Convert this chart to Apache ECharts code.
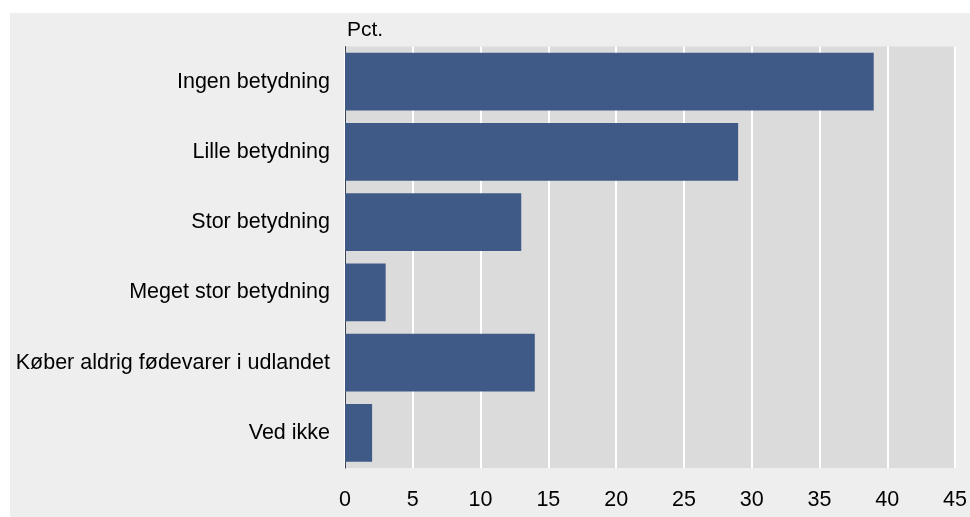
<!DOCTYPE html>
<html>
<head>
<meta charset="utf-8">
<script src="https://cdn.jsdelivr.net/npm/echarts@6/dist/echarts.min.js"></script>
<style>
  html, body { margin: 0; padding: 0; background: #fff; }
  #main { width: 970px; height: 517px; }
</style>
</head>
<body>
<div id="main"></div>
<script>
// kategorier og andele (pct.)
var categories = ['Ingen betydning', 'Lille betydning', 'Stor betydning',
  'Meget stor betydning', 'Køber aldrig fødevarer i udlandet', 'Ved ikke'];
var values = [39, 29, 13, 3, 14, 2];
var xTicks = [0, 5, 10, 15, 20, 25, 30, 35, 40, 45];

var chart = echarts.init(document.getElementById('main'));
var font = 'Liberation Sans, Arial, sans-serif';

var option = {
  backgroundColor: '#ffffff',
  animation: false,
  graphic: [
    { // grå ramme bag grafen
      type: 'rect', z: -10,
      shape: { x: 10, y: 13, width: 960, height: 504 },
      style: { fill: '#eeeeee' }
    },
    {
      type: 'text', left: 347, top: 20,
      style: { text: 'Pct.', font: '21px ' + font, fill: '#000' }
    }
  ],
  grid: {
    left: 345, right: 12, top: 46.5, bottom: 49,
    show: true, backgroundColor: '#dbdbdb', borderWidth: 0
  },
  xAxis: {
    type: 'value',
    min: xTicks[0], max: xTicks[xTicks.length - 1], interval: 5,
    axisLine: { show: false },
    axisTick: { show: false },
    splitLine: { show: true, lineStyle: { color: '#ffffff', width: 2 } },
    axisLabel: { color: '#000', fontSize: 21.5, fontFamily: font, margin: 21 }
  },
  yAxis: {
    type: 'category',
    data: categories,
    inverse: true,
    axisLine: { show: true, lineStyle: { color: '#3a4257', width: 1 } },
    axisTick: { show: false },
    axisLabel: { color: '#000', fontSize: 21.5, fontFamily: font, margin: 15, padding: [3, 0, 0, 0] }
  },
  series: [{
    type: 'bar',
    data: values,
    barCategoryGap: '18%',
    itemStyle: { color: '#3f5a87' }
  }]
};

chart.setOption(option);
</script>
</body>
</html>
